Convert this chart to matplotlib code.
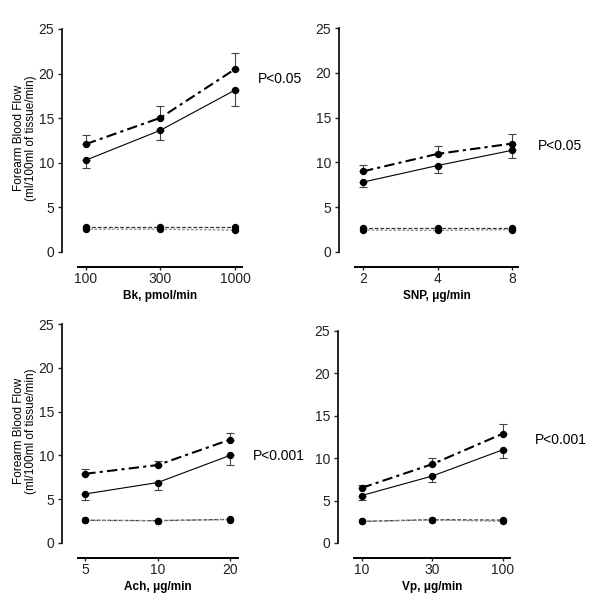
#!/usr/bin/env python3

# imports
import matplotlib
matplotlib.use('Agg')
import matplotlib.pyplot as plt

plt.rcParams['font.family'] = ['Liberation Sans', 'DejaVu Sans']

# data
panel_xlabels = ['Bk, pmol/min', 'SNP, \u03bcg/min', 'Ach, \u03bcg/min', 'Vp, \u03bcg/min']
panel_ticks = [['100', '300', '1000'], ['2', '4', '8'], ['5', '10', '20'], ['10', '30', '100']]
y_ticks = [0, 5, 10, 15, 20, 25]
p_values = ['P<0.05', 'P<0.05', 'P<0.001', 'P<0.001']

# dash-dot series with upper error bars
top_mean = [[12.1, 15.05, 20.5], [9.0, 10.95, 12.1], [7.9, 8.9, 11.8], [6.5, 9.3, 12.9]]
top_upper = [[13.1, 16.4, 22.3], [9.7, 11.8, 13.2], [8.5, 9.4, 12.6], [6.8, 10.0, 14.0]]
# solid series with lower error bars
solid_mean = [[10.3, 13.65, 18.15], [7.8, 9.65, 11.35], [5.6, 6.9, 10.0], [5.6, 7.9, 11.0]]
solid_lower = [[9.4, 12.5, 16.4], [7.2, 8.8, 10.5], [4.9, 6.1, 8.9], [5.1, 7.2, 10.0]]
# control lines near baseline
ctrl_a = [[2.75, 2.75, 2.75], [2.7, 2.7, 2.7], [2.6, 2.55, 2.7], [2.55, 2.75, 2.7]]
ctrl_b = [[2.55, 2.55, 2.45], [2.45, 2.4, 2.5], [2.58, 2.55, 2.68], [2.55, 2.72, 2.55]]

# layout in pixels: (left, right, top, bottom, xmin, xmax, p-label x, p-label y)
W, H = 600, 609
layout = [
    (78, 242, 29, 252, -0.107, 2.094, 258, 79),
    (355, 518, 28, 252, -0.107, 2.08, 538, 146),
    (78, 238, 324, 543, -0.10, 2.11, 253, 456),
    (354, 510, 331, 543, -0.11, 2.10, 535, 440),
]
px2pt = 0.72  # at 100 dpi

fig = plt.figure(figsize=(W / 100, H / 100), dpi=100)

x = [0, 1, 2]
for i in range(4):
    left, right, top, bottom, xmin, xmax, px, py = layout[i]
    h = bottom - top
    ax = fig.add_axes([left / W, 1 - bottom / H, (right - left) / W, h / H])

    # control lines
    ax.plot(x, ctrl_a[i], linestyle=(0, (3, 1.5)), color='#333333', linewidth=0.9,
            marker='o', markersize=4.3, markerfacecolor='black', markeredgecolor='black')
    ax.plot(x, ctrl_b[i], linestyle=(0, (2, 1.5)), color='#888888', linewidth=0.9,
            marker='o', markersize=4.3, markerfacecolor='black', markeredgecolor='black')

    # error bars
    up = [top_upper[i][k] - top_mean[i][k] for k in range(3)]
    lo = [solid_mean[i][k] - solid_lower[i][k] for k in range(3)]
    ax.errorbar(x, top_mean[i], yerr=[[0, 0, 0], up], fmt='none', ecolor='#444444',
                elinewidth=0.8, capsize=3, capthick=0.8)
    ax.errorbar(x, solid_mean[i], yerr=[lo, [0, 0, 0]], fmt='none', ecolor='#444444',
                elinewidth=0.8, capsize=3, capthick=0.8)

    # main series
    ax.plot(x, top_mean[i], linestyle=(0, (5, 2, 1.5, 2)), color='black', linewidth=1.5,
            marker='o', markersize=4.3)
    ax.plot(x, solid_mean[i], linestyle='-', color='black', linewidth=0.8,
            marker='o', markersize=4.3)

    ax.set_xlim(xmin, xmax)
    ax.set_ylim(0, 25)
    ax.set_xticks(x)
    ax.set_xticklabels(panel_ticks[i], fontsize=6.5)
    ax.set_yticks(y_ticks)
    ax.set_yticklabels([str(v) for v in y_ticks], fontsize=7.5)
    ax.tick_params(axis='y', length=3, width=1, direction='out', pad=2.5, colors='#222222')
    ax.tick_params(axis='x', length=2.2, width=1, direction='out', pad=1.5, colors='#222222')

    ax.spines['top'].set_visible(False)
    ax.spines['right'].set_visible(False)
    ax.spines['left'].set_position(('outward', 16 * px2pt))
    ax.spines['bottom'].set_position(('outward', 15 * px2pt))
    ax.spines['left'].set_linewidth(1.2)
    ax.spines['bottom'].set_linewidth(1.4)

    ax.set_xlabel(panel_xlabels[i], fontsize=8.5, fontweight='bold')
    ax.xaxis.set_label_coords(0.5, -(15 + 23) / h)
    if i % 2 == 0:
        ax.set_ylabel('Forearm Blood Flow\n(ml/100ml of tissue/min)', fontsize=8.5,
                      linespacing=0.95)
        ax.yaxis.set_label_coords(-(78 - 37) / (right - left), 0.51)

    fig.text(px / W, 1 - py / H, p_values[i], fontsize=10, va='center', ha='left')

# save plot file
plt.savefig('out.png', dpi=100)
